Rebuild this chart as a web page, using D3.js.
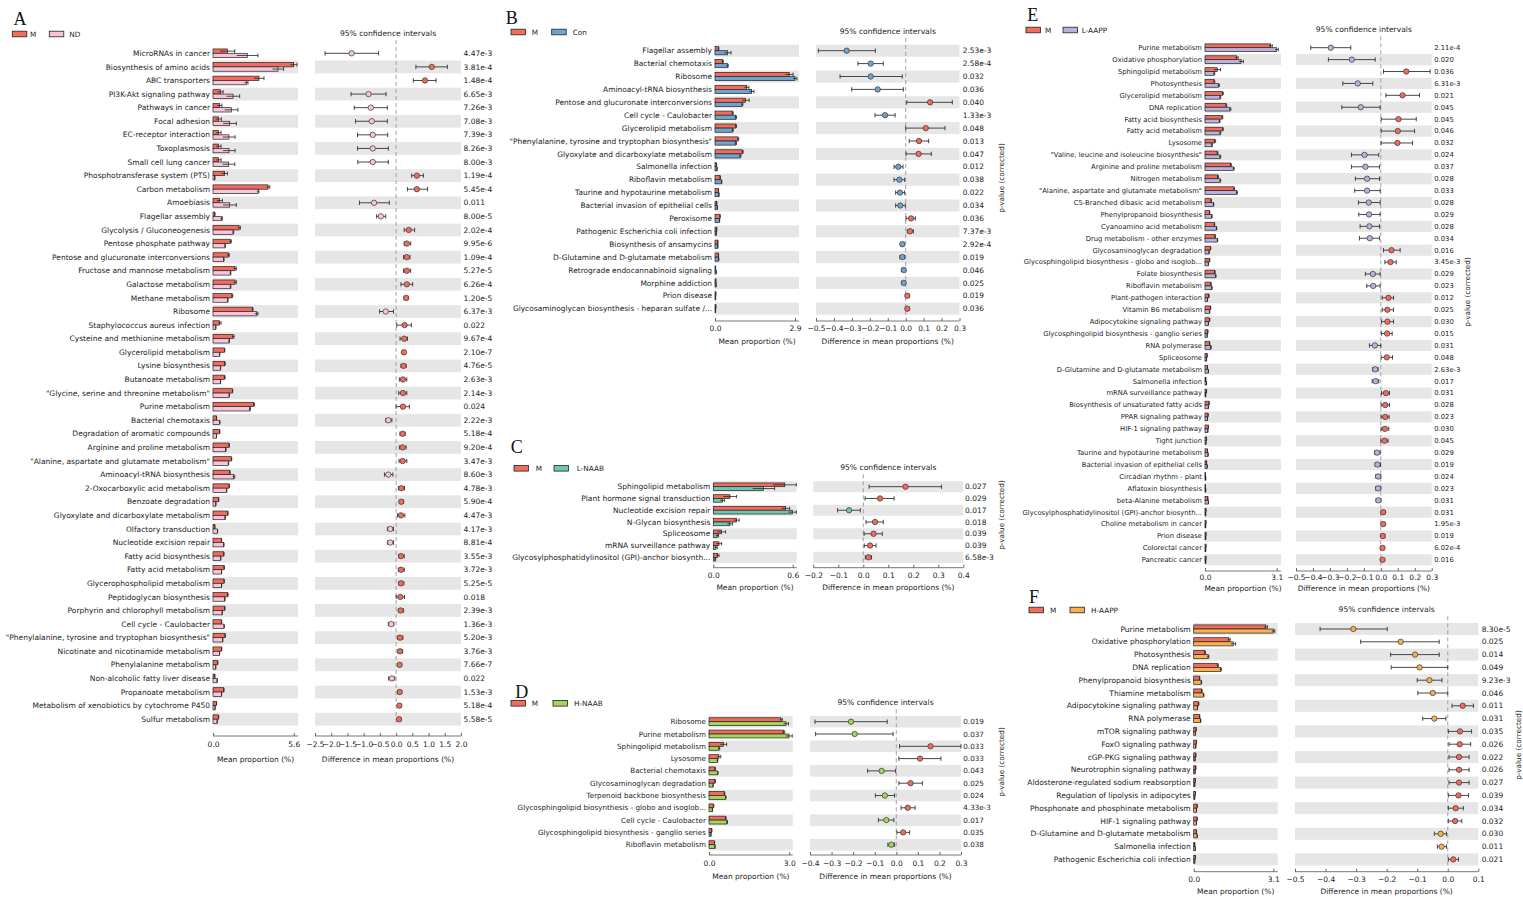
<!DOCTYPE html>
<html><head><meta charset="utf-8">
<script src="https://cdn.jsdelivr.net/npm/d3@7"></script>
<style>body{margin:0;background:#fff;} svg{display:block;} text{font-family:"DejaVu Sans",sans-serif;fill:#222;}</style>
</head><body><svg id="c" width="1523" height="897"></svg>
<script>
// ---------------- DATA ----------------
// Panel A: M vs ND
const A_names = ["MicroRNAs in cancer","Biosynthesis of amino acids","ABC transporters","PI3K-Akt signaling pathway","Pathways in cancer","Focal adhesion","EC-receptor interaction","Toxoplasmosis","Small cell lung cancer","Phosphotransferase system (PTS)","Carbon metabolism","Amoebiasis","Flagellar assembly","Glycolysis / Gluconeogenesis","Pentose phosphate pathway","Pentose and glucuronate interconversions","Fructose and mannose metabolism","Galactose metabolism","Methane metabolism","Ribosome","Staphylococcus aureus infection","Cysteine and methionine metabolism","Glycerolipid metabolism","Lysine biosynthesis","Butanoate metabolism","\"Glycine, serine and threonine metabolism\"","Purine metabolism","Bacterial chemotaxis","Degradation of aromatic compounds","Arginine and proline metabolism","\"Alanine, aspartate and glutamate metabolism\"","Aminoacyl-tRNA biosynthesis","2-Oxocarboxylic acid metabolism","Benzoate degradation","Glyoxylate and dicarboxylate metabolism","Olfactory transduction","Nucleotide excision repair","Fatty acid biosynthesis","Fatty acid metabolism","Glycerophospholipid metabolism","Peptidoglycan biosynthesis","Porphyrin and chlorophyll metabolism","Cell cycle - Caulobacter","\"Phenylalanine, tyrosine and tryptophan biosynthesis\"","Nicotinate and nicotinamide metabolism","Phenylalanine metabolism","Non-alcoholic fatty liver disease","Propanoate metabolism","Metabolism of xenobiotics by cytochrome P450","Sulfur metabolism"];
const A_p = ["4.47e-3","3.81e-4","1.48e-4","6.65e-3","7.26e-3","7.08e-3","7.39e-3","8.26e-3","8.00e-3","1.19e-4","5.45e-4","0.011","8.00e-5","2.02e-4","9.95e-6","1.09e-4","5.27e-5","6.26e-4","1.20e-5","6.37e-3","0.022","9.67e-4","2.10e-7","4.76e-5","2.63e-3","2.14e-3","0.024","2.22e-3","5.18e-4","9.20e-4","3.47e-3","8.60e-3","4.78e-3","5.90e-4","4.47e-3","4.17e-3","8.81e-4","3.55e-3","3.72e-3","5.25e-5","0.018","2.39e-3","1.36e-3","5.20e-3","3.76e-3","7.66e-7","0.022","1.53e-3","5.18e-4","5.58e-5"];
const A_m = [1.00,5.60,3.19,0.51,0.46,0.39,0.39,0.39,0.39,0.81, 3.82,0.46,0.12,1.81,1.20,1.06,1.53,1.53,1.32,2.73, 0.46,1.39,0.79,0.81,0.79,1.34,2.82,0.23,0.46,1.11, 1.27,1.16,1.11,0.39,1.02,0.12,0.58,0.74,0.76,0.76, 1.00,0.81,0.58,0.83,0.58,0.32,0.12,0.74,0.23,0.37];
const A_o = [2.38,4.51,2.31,1.39,1.27,1.16,1.11,1.11,1.09,0.12, 3.13,1.16,0.58,1.39,0.83,0.74,1.20,1.20,1.02,3.01, 0.19,1.11,0.46,0.51,0.51,1.11,2.55,0.46,0.23,0.88, 1.06,1.44,0.93,0.19,0.83,0.30,0.74,0.53,0.58,0.58, 0.81,0.63,0.76,0.67,0.44,0.19,0.28,0.58,0.14,0.28];
const A_em = [0.51,0.23,0.35,0.19,0.16,0.19,0.17,0.17,0.17,0.19, 0.12,0.19,0.02,0.09,0.07,0.07,0.09,0.09,0.05,0.05, 0.10,0.07,0.03,0.04,0.05,0.03,0.05,0.02,0.02,0.03, 0.03,0.03,0.03,0.02,0.03,0.02,0.02,0.03,0.04,0.03, 0.05,0.03,0.02,0.03,0.03,0.02,0.02,0.03,0.02,0.03];
const A_eo = [0.74,0.39,0.12,0.46,0.46,0.46,0.42,0.42,0.42,0.02, 0.05,0.46,0.07,0.05,0.03,0.03,0.04,0.04,0.03,0.11, 0.02,0.03,0.02,0.02,0.02,0.03,0.05,0.03,0.02,0.03, 0.03,0.07,0.03,0.02,0.03,0.02,0.03,0.02,0.02,0.02, 0.03,0.02,0.03,0.02,0.02,0.01,0.02,0.02,0.01,0.02];
const A_d = [-1.37,1.10,0.89,-0.85,-0.78,-0.75,-0.72,-0.72,-0.72,0.64, 0.64,-0.68,-0.47,0.39,0.33,0.33,0.33,0.33,0.31,-0.32, 0.26,0.25,0.24,0.23,0.21,0.21,0.21,-0.24,0.20,0.20, 0.20,-0.24,0.16,0.16,0.15,-0.18,-0.18,0.15,0.15,0.15, 0.13,0.14,-0.15,0.12,0.12,0.11,-0.13,0.11,0.10,0.09];
const A_lo = [-2.19,0.61,0.53,-1.39,-1.29,-1.25,-1.19,-1.19,-1.18,0.48, 0.35,-1.13,-0.60,0.25,0.25,0.23,0.23,0.15,0.25,-0.51, 0.02,0.12,0.19,0.15,0.10,0.08,0.00,-0.32,0.12,0.10, 0.09,-0.36,0.07,0.10,0.04,-0.27,-0.27,0.08,0.07,0.08, 0.00,0.07,-0.24,0.05,0.06,0.07,-0.23,0.05,0.06,0.04];
const A_hi = [-0.54,1.58,1.23,-0.31,-0.27,-0.27,-0.26,-0.24,-0.24,0.84, 0.97,-0.21,-0.32,0.57,0.45,0.43,0.45,0.51,0.37,-0.08, 0.47,0.35,0.29,0.31,0.33,0.33,0.41,-0.13,0.28,0.31, 0.33,-0.10,0.26,0.23,0.27,-0.08,-0.08,0.25,0.25,0.24, 0.26,0.23,-0.07,0.21,0.20,0.16,-0.04,0.17,0.15,0.15];

// Panel B: M vs Con
const B_names = ["Flagellar assembly","Bacterial chemotaxis","Ribosome","Aminoacyl-tRNA biosynthesis","Pentose and glucuronate interconversions","Cell cycle - Caulobacter","Glycerolipid metabolism","\"Phenylalanine, tyrosine and tryptophan biosynthesis\"","Glyoxylate and dicarboxylate metabolism","Salmonella infection","Riboflavin metabolism","Taurine and hypotaurine metabolism","Bacterial invasion of epithelial cells","Peroxisome","Pathogenic Escherichia coli infection","Biosynthesis of ansamycins","D-Glutamine and D-glutamate metabolism","Retrograde endocannabinoid signaling","Morphine addiction","Prion disease","Glycosaminoglycan biosynthesis - heparan sulfate /..."];
const B_p = ["2.53e-3","2.58e-4","0.032","0.036","0.040","1.33e-3","0.048","0.013","0.047","0.012","0.038","0.022","0.034","0.036","7.37e-3","2.92e-4","0.019","0.046","0.025","0.019","0.036"];
const B_m = [0.12,0.27,2.69,1.15,1.11,0.63,0.75,0.83,0.99,0.05,0.18,0.12,0.06,0.18,0.06,0.10,0.12,0.02,0.03,0.03,0.03];
const B_o = [0.46,0.45,2.90,1.33,0.98,0.75,0.63,0.75,0.91,0.07,0.23,0.14,0.08,0.16,0.04,0.10,0.13,0.04,0.04,0.02,0.02];
const B_em = [0.02,0.03,0.14,0.08,0.13,0.03,0.03,0.03,0.03,0.01,0.02,0.01,0.01,0.01,0.01,0.01,0.01,0.005,0.005,0.005,0.005];
const B_eo = [0.12,0.03,0.07,0.08,0.03,0.03,0.03,0.03,0.03,0.01,0.02,0.01,0.01,0.01,0.01,0.01,0.01,0.005,0.005,0.005,0.005];
const B_d = [-0.329,-0.195,-0.195,-0.156,0.136,-0.115,0.112,0.074,0.072,-0.041,-0.035,-0.032,-0.030,0.030,0.024,-0.019,-0.019,-0.011,-0.011,0.009,0.009];
const B_lo = [-0.487,-0.266,-0.366,-0.301,0.006,-0.171,0.000,0.020,0.002,-0.065,-0.065,-0.056,-0.056,0.002,0.009,-0.028,-0.032,-0.022,-0.022,0.002,0.002];
const B_hi = [-0.169,-0.125,-0.019,-0.013,0.260,-0.059,0.219,0.128,0.143,-0.015,-0.006,-0.006,-0.002,0.054,0.043,-0.009,-0.006,-0.002,-0.002,0.019,0.019];

// Panel C: M vs L-NAAB
const C_names = ["Sphingolipid metabolism","Plant hormone signal transduction","Nucleotide excision repair","N-Glycan biosynthesis","Spliceosome","mRNA surveillance pathway","Glycosylphosphatidylinositol (GPI)-anchor biosynth..."];
const C_p = ["0.027","0.029","0.017","0.018","0.039","0.039","6.58e-3"];
const C_m = [0.54,0.126,0.547,0.176,0.063,0.043,0.033];
const C_o = [0.38,0.068,0.597,0.126,0.030,0.020,0.013];
const C_em = [0.088,0.05,0.03,0.02,0.03,0.02,0.01];
const C_eo = [0.083,0.015,0.03,0.02,0.01,0.01,0.005];
const C_d = [0.169,0.067,-0.057,0.047,0.041,0.027,0.021];
const C_lo = [0.023,0.007,-0.103,0.011,0.003,0.004,0.008];
const C_hi = [0.313,0.123,-0.012,0.080,0.076,0.051,0.033];

// Panel D: M vs H-NAAB
const D_names = ["Ribosome","Purine metabolism","Sphingolipid metabolism","Lysosome","Bacterial chemotaxis","Glycosaminoglycan degradation","Terpenoid backbone biosynthesis","Glycosphingolipid biosynthesis - globo and isoglob...","Cell cycle - Caulobacter","Glycosphingolipid biosynthesis - ganglio series","Riboflavin metabolism"];
const D_p = ["0.019","0.037","0.033","0.033","0.043","0.025","0.024","4.33e-3","0.017","0.035","0.038"];
const D_m = [2.69,2.78,0.54,0.37,0.22,0.22,0.57,0.16,0.62,0.10,0.20];
const D_o = [2.88,2.99,0.37,0.31,0.32,0.15,0.62,0.12,0.67,0.07,0.22];
const D_em = [0.05,0.05,0.12,0.07,0.02,0.02,0.02,0.02,0.02,0.01,0.01];
const D_eo = [0.09,0.12,0.03,0.02,0.02,0.01,0.02,0.01,0.02,0.01,0.01];
const D_d = [-0.210,-0.193,0.159,0.110,-0.068,0.066,-0.053,0.053,-0.046,0.032,-0.023];
const D_lo = [-0.377,-0.374,0.015,0.012,-0.133,0.012,-0.097,0.022,-0.083,0.003,-0.039];
const D_hi = [-0.042,-0.015,0.300,0.207,-0.003,0.121,-0.008,0.087,-0.011,0.062,-0.008];

// Panel E: M vs L-AAPP
const E_names = ["Purine metabolism","Oxidative phosphorylation","Sphingolipid metabolism","Photosynthesis","Glycerolipid metabolism","DNA replication","Fatty acid biosynthesis","Fatty acid metabolism","Lysosome","\"Valine, leucine and isoleucine biosynthesis\"","Arginine and proline metabolism","Nitrogen metabolism","\"Alanine, aspartate and glutamate metabolism\"","C5-Branched dibasic acid metabolism","Phenylpropanoid biosynthesis","Cyanoamino acid metabolism","Drug metabolism - other enzymes","Glycosaminoglycan degradation","Glycosphingolipid biosynthesis - globo and isoglob...","Folate biosynthesis","Riboflavin metabolism","Plant-pathogen interaction","Vitamin B6 metabolism","Adipocytokine signaling pathway","Glycosphingolipid biosynthesis - ganglio series","RNA polymerase","Spliceosome","D-Glutamine and D-glutamate metabolism","Salmonella infection","mRNA surveillance pathway","Biosynthesis of unsaturated fatty acids","PPAR signaling pathway","HIF-1 signaling pathway","Tight junction","Taurine and hypotaurine metabolism","Bacterial invasion of epithelial cells","Circadian rhythm - plant","Aflatoxin biosynthesis","beta-Alanine metabolism","Glycosylphosphatidylinositol (GPI)-anchor biosynth...","Choline metabolism in cancer","Prion disease","Colorectal cancer","Pancreatic cancer"];
const E_p = ["2.11e-4","0.020","0.036","6.31e-3","0.021","0.045","0.045","0.046","0.032","0.024","0.037","0.028","0.033","0.028","0.029","0.028","0.034","0.016","3.45e-3","0.029","0.023","0.012","0.025","0.030","0.015","0.031","0.048","2.63e-3","0.017","0.031","0.028","0.023","0.030","0.045","0.029","0.019","0.024","0.023","0.031","0.031","1.95e-3","0.019","6.02e-4","0.016"];
const E_m = [2.84,1.37,0.53,0.39,0.76,0.91,0.74,0.76,0.42,0.53, 1.11,0.55,1.25,0.26,0.19,0.40,0.43,0.23,0.19,0.42, 0.25,0.16,0.23,0.19,0.12,0.19,0.09,0.10,0.03,0.06, 0.17,0.13,0.14,0.06,0.10,0.06,0.01,0.01,0.12,0.04, 0.04,0.04,0.04,0.04];
const E_o = [3.10,1.56,0.39,0.58,0.65,1.08,0.62,0.65,0.30,0.65, 1.23,0.65,1.37,0.36,0.29,0.49,0.53,0.17,0.14,0.46, 0.29,0.10,0.19,0.14,0.09,0.25,0.06,0.14,0.06,0.03, 0.14,0.10,0.12,0.04,0.13,0.09,0.03,0.03,0.14,0.03, 0.03,0.03,0.03,0.03];
const E_em = [0.07,0.06,0.14,0.03,0.03,0.03,0.03,0.03,0.04,0.03, 0.03,0.03,0.03,0.02,0.02,0.02,0.02,0.02,0.02,0.02, 0.02,0.02,0.02,0.02,0.01,0.02,0.01,0.01,0.01,0.01, 0.02,0.01,0.01,0.01,0.01,0.01,0.005,0.005,0.01,0.005, 0.005,0.005,0.005,0.005];
const E_eo = [0.07,0.10,0.03,0.04,0.03,0.04,0.03,0.03,0.02,0.03, 0.03,0.03,0.03,0.02,0.02,0.02,0.02,0.02,0.01,0.02, 0.02,0.01,0.02,0.01,0.01,0.02,0.01,0.01,0.01,0.005, 0.01,0.01,0.01,0.005,0.01,0.01,0.005,0.005,0.01,0.005, 0.005,0.005,0.005,0.005];
const E_d = [-0.295,-0.171,0.150,-0.136,0.128,-0.118,0.104,0.100,0.098,-0.096, -0.091,-0.081,-0.081,-0.071,-0.069,-0.067,-0.065,0.063,0.057,-0.047, -0.045,0.045,0.039,0.039,0.037,-0.035,0.035,-0.033,-0.031,0.030, 0.026,0.026,0.024,0.022,-0.022,-0.020,-0.016,-0.016,-0.014,0.014, 0.014,0.012,0.010,0.010];
const E_lo = [-0.413,-0.309,0.016,-0.224,0.030,-0.230,0.002,0.002,0.002,-0.173, -0.173,-0.150,-0.154,-0.132,-0.130,-0.122,-0.126,0.016,0.024,-0.091, -0.083,0.008,0.008,0.004,0.004,-0.067,0.002,-0.049,-0.051,0.004, 0.002,0.002,0.002,0.000,-0.037,-0.033,-0.030,-0.030,-0.028,0.002, 0.004,0.002,0.002,0.002];
const E_hi = [-0.177,-0.033,0.291,-0.047,0.228,-0.004,0.209,0.199,0.187,-0.012, -0.008,-0.008,-0.004,-0.004,-0.004,-0.008,-0.008,0.114,0.091,-0.004, -0.004,0.075,0.075,0.075,0.067,0.000,0.069,-0.016,-0.012,0.051, 0.051,0.049,0.047,0.043,-0.004,-0.002,0.000,0.000,0.000,0.026, 0.024,0.024,0.020,0.020];

// Panel F: M vs H-AAPP
const F_names = ["Purine metabolism","Oxidative phosphorylation","Photosynthesis","DNA replication","Phenylpropanoid biosynthesis","Thiamine metabolism","Adipocytokine signaling pathway","RNA polymerase","mTOR signaling pathway","FoxO signaling pathway","cGP-PKG signaling pathway","Neurotrophin signaling pathway","Aldosterone-regulated sodium reabsorption","Regulation of lipolysis in adipocytes","Phosphonate and phosphinate metabolism","HIF-1 signaling pathway","D-Glutamine and D-glutamate metabolism","Salmonella infection","Pathogenic Escherichia coli infection"];
const F_p = ["8.30e-5","0.025","0.014","0.049","9.23e-3","0.046","0.011","0.031","0.035","0.026","0.022","0.026","0.027","0.039","0.034","0.032","0.030","0.011","0.021"];
const F_m = [2.81,1.37,0.43,0.93,0.22,0.31,0.18,0.22,0.09,0.10,0.08,0.08,0.06,0.06,0.13,0.13,0.10,0.04,0.06];
const F_o = [3.10,1.54,0.56,1.05,0.29,0.38,0.14,0.26,0.06,0.08,0.05,0.05,0.04,0.04,0.10,0.10,0.13,0.06,0.04];
const F_em = [0.06,0.05,0.03,0.03,0.02,0.02,0.02,0.02,0.01,0.01,0.01,0.01,0.01,0.01,0.01,0.01,0.01,0.005,0.01];
const F_eo = [0.06,0.09,0.03,0.03,0.02,0.02,0.01,0.02,0.01,0.01,0.01,0.01,0.005,0.005,0.01,0.01,0.01,0.005,0.005];
const F_d = [-0.309,-0.154,-0.107,-0.092,-0.060,-0.049,0.049,-0.044,0.040,0.039,0.037,0.037,0.037,0.035,0.026,0.024,-0.023,-0.020,0.018];
const F_lo = [-0.418,-0.285,-0.187,-0.185,-0.100,-0.098,0.014,-0.082,0.002,0.004,0.004,0.004,0.004,0.002,0.002,0.002,-0.044,-0.034,0.002];
const F_hi = [-0.198,-0.028,-0.028,0.000,-0.019,0.000,0.084,-0.006,0.078,0.075,0.070,0.070,0.070,0.068,0.051,0.046,-0.004,-0.004,0.035];

const groupNames = ["ND","Con","L-NAAB","H-NAAB","L-AAPP","H-AAPP"];
const barMaxTicks = [5.6, 2.9, 0.6, 3.0, 3.1, 3.1];
const ciDomains = [[-2.5,2.0],[-0.5,0.3],[-0.2,0.4],[-0.4,0.3],[-0.5,0.3],[-0.5,0.1]];
const ciTickSteps = [0.5,0.1,0.1,0.1,0.1,0.1];

// ---------------- STYLE / LAYOUT ----------------
const colM = "#F26C5E";
const groupColors = ["#F7C4DA","#6FA3D2","#6DC7B2","#A5D55A","#B7B3DC","#F6B14F"];
const bandColor = "#E6E6E6";

const layouts = [
 {letter:"A", lx:20, ly:18.5, legY:34, leg:[12.3,30,49.3,69.3], barL:213, barT:293.7, barR:298, ciL:315, ciR:461, pX:463.5, row0:53.3, step:13.59, axisY:736, tickY:745, titleY:759, confY:33, fs:7.5, pLab:null},
 {letter:"B", lx:511.7, ly:18, legY:32, leg:[511,531.7,551.7,572.7], barL:715, barT:795, barR:799, ciL:816, ciR:959.5, pX:962.7, row0:50.7, step:12.9, axisY:321, tickY:329, titleY:341, confY:31, fs:7.45, pLab:[1001,178]},
 {letter:"C", lx:516.7, ly:446.7, legY:468.3, leg:[514,535.7,554,576.7], barL:713.3, barT:792.7, barR:796.7, ciL:813.3, ciR:963.3, pX:965, row0:486.7, step:11.77, axisY:567.7, tickY:576, titleY:587.3, confY:467.3, fs:7.5, pLab:[1001,515]},
 {letter:"D", lx:521.7, ly:691.7, legY:703.3, leg:[511,531.7,553,574], barL:709, barT:789.3, barR:792.7, ciL:810, ciR:961, pX:963.3, row0:721.7, step:12.3, axisY:855, tickY:864, titleY:876.7, confY:702.3, fs:7.2, pLab:[1001,762]},
 {letter:"E", lx:1032.7, ly:15, legY:30, leg:[1026,1045,1063,1081.7], barL:1205, barT:1276.7, barR:1281, ciL:1296, ciR:1431.7, pX:1434.3, row0:47.7, step:11.91, axisY:571, tickY:578.3, titleY:588, confY:29.3, fs:6.8, pLab:[1467,292]},
 {letter:"F", lx:1034, ly:597.3, legY:610, leg:[1029,1050,1070,1091], barL:1193.7, barT:1273.3, barR:1277.7, ciL:1295, ciR:1478.3, pX:1481.7, row0:629, step:12.8, axisY:871.7, tickY:880, titleY:891.7, confY:609.3, fs:7.5, pLab:[1518,745]}
];

const panelData = [
 {names:A_names,p:A_p,m:A_m,o:A_o,em:A_em,eo:A_eo,d:A_d,lo:A_lo,hi:A_hi},
 {names:B_names,p:B_p,m:B_m,o:B_o,em:B_em,eo:B_eo,d:B_d,lo:B_lo,hi:B_hi},
 {names:C_names,p:C_p,m:C_m,o:C_o,em:C_em,eo:C_eo,d:C_d,lo:C_lo,hi:C_hi},
 {names:D_names,p:D_p,m:D_m,o:D_o,em:D_em,eo:D_eo,d:D_d,lo:D_lo,hi:D_hi},
 {names:E_names,p:E_p,m:E_m,o:E_o,em:E_em,eo:E_eo,d:E_d,lo:E_lo,hi:E_hi},
 {names:F_names,p:F_p,m:F_m,o:F_o,em:F_em,eo:F_eo,d:F_d,lo:F_lo,hi:F_hi}
];

const svg = d3.select("#c");

function drawPanel(k){
  const L = layouts[k], D = panelData[k];
  const n = D.names.length;
  const colO = groupColors[k];
  const g = svg.append("g");
  const y = d3.scaleBand().domain(d3.range(n))
      .range([L.row0 - L.step/2, L.row0 + (n-1)*L.step + L.step/2]).padding(0);
  const cy = i => y(i) + y.bandwidth()/2;
  const xb = d3.scaleLinear().domain([0, barMaxTicks[k]]).range([L.barL, L.barT]);
  const xc = d3.scaleLinear().domain(ciDomains[k]).range([L.ciL, L.ciR]);
  const bh = L.step*0.32;
  const bandH = y.bandwidth()*0.94;

  // letter
  g.append("text").attr("x", L.lx).attr("y", L.ly+6).attr("text-anchor","middle")
   .style("font-family","'Liberation Serif','DejaVu Serif',serif").style("font-size","18px").style("fill","#111").text(L.letter);
  // legend
  [[colM,"M"],[colO,groupNames[k]]].forEach((e,j)=>{
    g.append("rect").attr("x",L.leg[j*2]).attr("y",L.legY-2.8).attr("width",14.5).attr("height",5.6)
     .attr("fill",e[0]).attr("stroke","#222").attr("stroke-width",0.8);
    g.append("text").attr("x",L.leg[j*2+1]).attr("y",L.legY).attr("dy","0.35em").style("font-size","7.3px").text(e[1]);
  });
  // conf title
  g.append("text").attr("x",(L.ciL+L.ciR)/2).attr("y",L.confY).attr("dy","0.35em").attr("text-anchor","middle")
   .style("font-size","7.6px").text("95% confidence intervals");

  const idx = d3.range(n);
  const shaded = idx.filter(i => (n-1-i)%2===0);
  g.selectAll(".bb").data(shaded).join("rect").attr("x",L.barL).attr("width",L.barR-L.barL)
   .attr("y",i=>cy(i)-bandH/2).attr("height",bandH).attr("fill",bandColor);
  g.selectAll(".cb").data(shaded).join("rect").attr("x",L.ciL).attr("width",L.ciR-L.ciL)
   .attr("y",i=>cy(i)-bandH/2).attr("height",bandH).attr("fill",bandColor);

  // zero dashed line
  g.append("line").attr("x1",xc(0)).attr("x2",xc(0)).attr("y1",L.confY+7).attr("y2",cy(n-1)+bandH/2)
   .attr("stroke","#999").attr("stroke-width",0.9).attr("stroke-dasharray","4,3");

  // row labels
  g.selectAll(".lab").data(idx).join("text").attr("x",L.barL-3).attr("y",i=>cy(i)).attr("dy","0.35em")
   .attr("text-anchor","end").style("font-size",L.fs+"px").text(i=>D.names[i]);
  // p-values
  g.selectAll(".pv").data(idx).join("text").attr("x",L.pX).attr("y",i=>cy(i)).attr("dy","0.35em")
   .style("font-size",L.fs+"px").text(i=>D.p[i]);

  // bars
  const series = [{v:D.m,e:D.em,c:colM,off:-bh},{v:D.o,e:D.eo,c:colO,off:0}];
  series.forEach(s=>{
    g.selectAll(null).data(idx).join("rect").attr("x",L.barL).attr("y",i=>cy(i)+s.off)
     .attr("width",i=>Math.max(0.6,xb(s.v[i])-L.barL)).attr("height",bh)
     .attr("fill",s.c).attr("stroke","#222").attr("stroke-width",0.7);
    const ey = i=>cy(i)+s.off+bh/2;
    g.selectAll(null).data(idx).join("line").attr("x1",i=>xb(Math.max(0,s.v[i]-s.e[i]))).attr("x2",i=>xb(s.v[i]+s.e[i]))
     .attr("y1",ey).attr("y2",ey).attr("stroke","#222").attr("stroke-width",0.8);
    g.selectAll(null).data(idx).join("line").attr("x1",i=>xb(s.v[i]+s.e[i])).attr("x2",i=>xb(s.v[i]+s.e[i]))
     .attr("y1",i=>ey(i)-bh*0.45).attr("y2",i=>ey(i)+bh*0.45).attr("stroke","#222").attr("stroke-width",0.8);
  });

  // CI
  g.selectAll(null).data(idx).join("line").attr("x1",i=>xc(D.lo[i])).attr("x2",i=>xc(D.hi[i]))
   .attr("y1",cy).attr("y2",cy).attr("stroke","#333").attr("stroke-width",0.9);
  ["lo","hi"].forEach(key=>{
    g.selectAll(null).data(idx).join("line").attr("x1",i=>xc(D[key][i])).attr("x2",i=>xc(D[key][i]))
     .attr("y1",i=>cy(i)-2.2).attr("y2",i=>cy(i)+2.2).attr("stroke","#333").attr("stroke-width",0.9);
  });
  g.selectAll(null).data(idx).join("circle").attr("cx",i=>xc(D.d[i])).attr("cy",cy).attr("r",2.7)
   .attr("fill",i=>D.d[i]>0?colM:colO).attr("stroke","#333").attr("stroke-width",0.7);

  // axes
  const fmt = d3.format(".1f");
  const axB = d3.axisBottom(xb).tickValues([0, barMaxTicks[k]]).tickFormat(fmt).tickSizeInner(-3).tickSizeOuter(0).tickPadding(5);
  const ga = g.append("g").attr("transform",`translate(0,${L.axisY})`).call(axB);
  const dom = ciDomains[k], st = ciTickSteps[k];
  const nt = Math.round((dom[1]-dom[0])/st);
  const cTicks = d3.range(nt+1).map(j=>+(dom[0]+j*st).toFixed(2));
  const axC = d3.axisBottom(xc).tickValues(cTicks).tickFormat(fmt).tickSizeInner(-3).tickSizeOuter(0).tickPadding(5);
  const gc = g.append("g").attr("transform",`translate(0,${L.axisY})`).call(axC);
  [ga,gc].forEach(a=>{
    a.select(".domain").remove();
    a.selectAll("line").attr("stroke","#666");
    a.selectAll("text").style("font-size","7.5px").style("fill","#222").attr("y",null).attr("dy",null)
     .attr("transform",`translate(0,${L.tickY-L.axisY})`).attr("dominant-baseline","middle");
  });
  g.append("line").attr("x1",L.barL).attr("x2",L.barR).attr("y1",L.axisY).attr("y2",L.axisY).attr("stroke","#666").attr("stroke-width",0.9);
  g.append("line").attr("x1",L.ciL).attr("x2",L.ciR).attr("y1",L.axisY).attr("y2",L.axisY).attr("stroke","#666").attr("stroke-width",0.9);
  g.append("text").attr("x",(L.barL+L.barR)/2).attr("y",L.titleY).attr("dy","0.35em").attr("text-anchor","middle")
   .style("font-size","7.5px").text("Mean proportion (%)");
  g.append("text").attr("x",(L.ciL+L.ciR)/2).attr("y",L.titleY).attr("dy","0.35em").attr("text-anchor","middle")
   .style("font-size","7.5px").text("Difference in mean proportions (%)");
  if(L.pLab){
    g.append("text").attr("transform",`translate(${L.pLab[0]},${L.pLab[1]}) rotate(-90)`).attr("text-anchor","middle")
     .attr("dy","0.35em").style("font-size","7.3px").text("p-value (corrected)");
  }
}
for(let k=0;k<6;k++) drawPanel(k);
</script>
</body></html>
